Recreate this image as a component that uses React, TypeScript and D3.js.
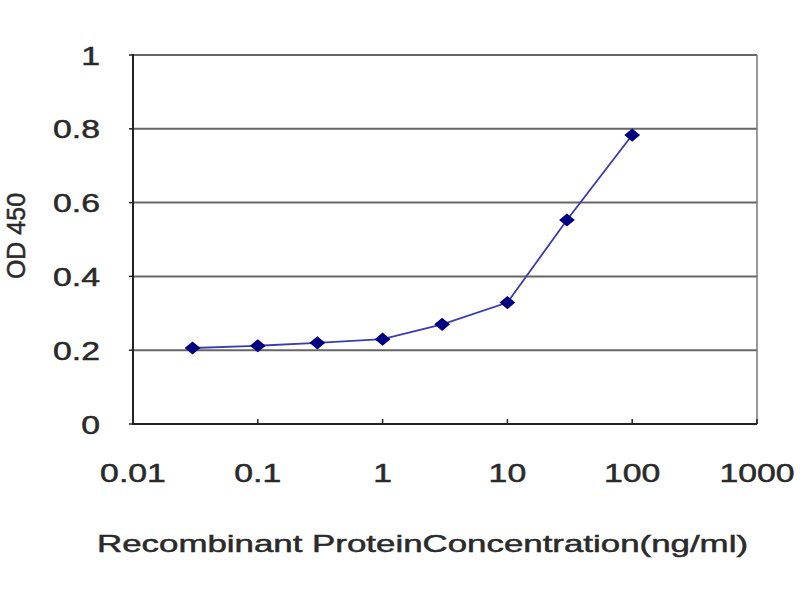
import { useEffect, useRef } from 'react'
import * as d3 from 'd3'

// concentration (ng/ml) and OD450 readings
const conc = [0.03, 0.1, 0.3, 1, 3, 10, 30, 100]
const od = [0.206, 0.212, 0.22, 0.23, 0.27, 0.329, 0.553, 0.783]
const xTicks = [0.01, 0.1, 1, 10, 100, 1000]
const yTicks = [0, 0.2, 0.4, 0.6, 0.8, 1]

export default function App() {
  const svgRef = useRef<SVGSVGElement>(null)

  useEffect(() => {
    if (!svgRef.current) return
    const svg = d3.select(svgRef.current)
    svg.selectAll('*').remove()

    const left = 133, right = 757, top = 55, bottom = 424
    const textColor = '#2a2a2a'
    const font = 'Arial, "Liberation Sans", sans-serif'

    const x = d3.scaleLog().domain([0.01, 1000]).range([left, right])
    const y = d3.scaleLinear().domain([0, 1]).range([bottom, top])

    svg.append('rect').attr('width', 800).attr('height', 600).attr('fill', '#fff')

    // gridlines
    svg.append('g')
      .selectAll('line')
      .data(yTicks.filter(d => d > 0))
      .join('line')
      .attr('x1', left).attr('x2', right)
      .attr('y1', d => y(d)).attr('y2', d => y(d))
      .attr('stroke', '#666').attr('stroke-width', 2)

    // right border
    svg.append('line')
      .attr('x1', right).attr('x2', right)
      .attr('y1', top).attr('y2', bottom)
      .attr('stroke', '#777').attr('stroke-width', 1.5)

    // axes
    svg.append('line')
      .attr('x1', left).attr('x2', left).attr('y1', top - 1).attr('y2', bottom + 1)
      .attr('stroke', '#222').attr('stroke-width', 2)
    svg.append('line')
      .attr('x1', left - 1).attr('x2', right).attr('y1', bottom).attr('y2', bottom)
      .attr('stroke', '#222').attr('stroke-width', 2)

    // y ticks
    svg.append('g')
      .selectAll('line')
      .data(yTicks)
      .join('line')
      .attr('x1', left - 4).attr('x2', left)
      .attr('y1', d => y(d)).attr('y2', d => y(d))
      .attr('stroke', '#222').attr('stroke-width', 1.5)

    // x ticks (pointing in)
    svg.append('g')
      .selectAll('line')
      .data(xTicks.slice(1))
      .join('line')
      .attr('x1', d => x(d)).attr('x2', d => x(d))
      .attr('y1', bottom).attr('y2', bottom - 5)
      .attr('stroke', '#222').attr('stroke-width', 1.5)

    const styleText = (t: d3.Selection<any, any, any, any>, size: number) =>
      t.attr('font-family', font).attr('font-size', size)
        .attr('fill', textColor)
        .attr('stroke', textColor).attr('stroke-width', 0.5)

    // y labels
    svg.append('g')
      .selectAll('text')
      .data(yTicks)
      .join('text')
      .attr('transform', d => `translate(100,${y(d) + 9.5}) scale(1.3,1)`)
      .attr('text-anchor', 'end')
      .call(t => styleText(t, 26))
      .text(d => String(d))

    // x labels
    svg.append('g')
      .selectAll('text')
      .data(xTicks)
      .join('text')
      .attr('transform', d => `translate(${x(d)},482) scale(1.3,1)`)
      .attr('text-anchor', 'middle')
      .call(t => styleText(t, 26))
      .text(d => String(d))

    // axis titles
    svg.append('text')
      .attr('x', 97).attr('y', 552)
      .attr('textLength', 651).attr('lengthAdjust', 'spacingAndGlyphs')
      .call(t => styleText(t, 24))
      .text('Recombinant ProteinConcentration(ng/ml)')

    svg.append('text')
      .attr('transform', 'translate(25,236) rotate(-90)')
      .attr('text-anchor', 'middle')
      .call(t => styleText(t, 25))
      .text('OD 450')

    // series
    const pts = conc.map((c, i) => [c, od[i]] as [number, number])
    const line = d3.line<[number, number]>()
      .x(d => x(d[0]))
      .y(d => y(d[1]))

    svg.append('path')
      .datum(pts)
      .attr('d', line)
      .attr('fill', 'none')
      .attr('stroke', '#3b3bb0')
      .attr('stroke-width', 1.8)

    svg.append('g')
      .selectAll('path')
      .data(pts)
      .join('path')
      .attr('d', d3.symbol(d3.symbolDiamond2, 110)())
      .attr('transform', d => `translate(${x(d[0])},${y(d[1])}) scale(1.2,1)`)
      .attr('fill', '#000080')
  }, [])

  return (
    <svg
      ref={svgRef}
      width={800}
      height={600}
      style={{ position: 'absolute', left: 0, top: 0 }}
    />
  )
}
